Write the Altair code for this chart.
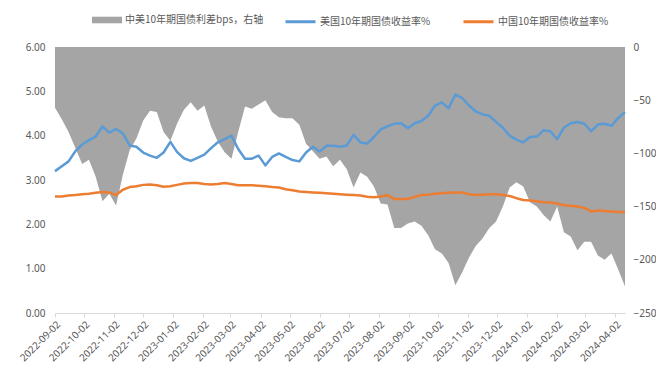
import altair as alt
import pandas as pd

# weekly sampling dates (x categories)
start_date = "2022-09-02"
dates = pd.date_range(start_date, periods=85, freq="7D")

us_yield = [3.20, 3.31, 3.42, 3.65, 3.80, 3.90, 3.98, 4.21, 4.07, 4.15,
            4.05, 3.78, 3.75, 3.62, 3.55, 3.50, 3.62, 3.86, 3.63, 3.49,
            3.43, 3.50, 3.57, 3.72, 3.85, 3.92, 4.00, 3.70, 3.48, 3.48,
            3.55, 3.33, 3.52, 3.60, 3.52, 3.45, 3.42, 3.62, 3.75, 3.64,
            3.77, 3.77, 3.75, 3.78, 4.02, 3.85, 3.82, 3.97, 4.14, 4.21,
            4.27, 4.28, 4.17, 4.28, 4.33, 4.45, 4.68, 4.75, 4.62, 4.93,
            4.85, 4.68, 4.55, 4.48, 4.45, 4.31, 4.18, 4.00, 3.91, 3.85,
            3.97, 3.98, 4.12, 4.10, 3.92, 4.18, 4.28, 4.31, 4.27, 4.10,
            4.25, 4.27, 4.22, 4.40, 4.53]

cn_yield = [2.63, 2.63, 2.65, 2.66, 2.68, 2.69, 2.71, 2.73, 2.72, 2.66,
            2.78, 2.84, 2.86, 2.89, 2.90, 2.88, 2.85, 2.86, 2.89, 2.92,
            2.93, 2.93, 2.91, 2.90, 2.91, 2.93, 2.91, 2.88, 2.88, 2.88,
            2.87, 2.86, 2.84, 2.83, 2.79, 2.77, 2.74, 2.73, 2.72, 2.71,
            2.70, 2.69, 2.68, 2.67, 2.66, 2.65, 2.62, 2.61, 2.63, 2.66,
            2.57, 2.57, 2.57, 2.62, 2.66, 2.67, 2.69, 2.70, 2.71, 2.72,
            2.72, 2.68, 2.66, 2.67, 2.68, 2.68, 2.66, 2.64, 2.59, 2.55,
            2.54, 2.52, 2.50, 2.49, 2.47, 2.43, 2.42, 2.40, 2.37, 2.29,
            2.31, 2.30, 2.29, 2.28, 2.28]

spread_bps = [-57, -68, -80, -95, -110, -106, -122, -145, -138, -149,
              -120, -97, -86, -69, -60, -61, -80, -88, -72, -59,
              -52, -60, -55, -75, -89, -99, -105, -80, -56, -58,
              -54, -50, -61, -66, -67, -67, -73, -91, -98, -105,
              -103, -112, -106, -115, -132, -118, -122, -131, -147, -148,
              -170, -170, -166, -164, -168, -177, -190, -194, -203, -224,
              -212, -198, -187, -180, -170, -164, -150, -132, -127, -131,
              -146, -150, -158, -164, -150, -174, -178, -191, -183, -183,
              -196, -200, -194, -209, -225]

spread_name = "中美10年期国债利差bps，右轴"
us_name = "美国10年期国债收益率%"
cn_name = "中国10年期国债收益率%"

left_ticks = [0, 1, 2, 3, 4, 5, 6]
right_ticks = [0, -50, -100, -150, -200, -250]
tick_months = [(2022, m) for m in range(9, 13)] + [(2023, m) for m in range(1, 13)] + [(2024, m) for m in range(1, 5)]
tick_values = [alt.DateTime(year=y, month=m, date=2) for y, m in tick_months]

BLUE = "#5B9BD5"
ORANGE = "#ED7D31"
GRAY = "#A5A5A5"
TXT = "#595959"

df_spread = pd.DataFrame({"date": dates, "spread": spread_bps, "series": spread_name})
df_lines = pd.DataFrame({
    "date": list(dates) * 2,
    "value": us_yield + cn_yield,
    "series": [us_name] * len(us_yield) + [cn_name] * len(cn_yield),
})

x_enc = alt.X(
    "date:T",
    scale=alt.Scale(domain=[alt.DateTime(year=2022, month=9, date=2),
                            alt.DateTime(year=2024, month=4, date=12)]),
    axis=alt.Axis(values=tick_values, format="%Y-%m-%d", labelAngle=-45,
                  labelAlign="right", labelBaseline="top", title=None, grid=False,
                  labelOverlap=False, labelBound=False,
                  domainColor="#D9D9D9", tickColor="#D9D9D9", tickSize=4,
                  labelColor=TXT, labelFontSize=10, labelPadding=2),
)

area = alt.Chart(df_spread).mark_area(interpolate="linear").encode(
    x=x_enc,
    y=alt.Y("spread:Q", scale=alt.Scale(domain=[-250, 0], nice=False),
            axis=alt.Axis(orient="right", values=right_ticks, title=None, grid=False,
                          domain=False, ticks=False, labelPadding=8,
                          labelColor=TXT, labelFontSize=10)),
    y2=alt.datum(0),
    fill=alt.Fill("series:N", scale=alt.Scale(domain=[spread_name], range=[GRAY]),
                  legend=alt.Legend(orient="none", legendX=37, legendY=-42, title=None,
                                    symbolType="M-1,-0.22H1V0.22H-1Z", symbolSize=900,
                                    symbolStrokeWidth=0, labelOffset=3)),
)

lines = alt.Chart(df_lines).mark_line(strokeWidth=2.5, strokeJoin="round").encode(
    x=x_enc,
    y=alt.Y("value:Q", scale=alt.Scale(domain=[0, 6], nice=False),
            axis=alt.Axis(orient="left", values=left_ticks, format=".2f", title=None,
                          grid=False, domain=False, ticks=False, labelPadding=10,
                          labelColor=TXT, labelFontSize=10)),
    stroke=alt.Stroke("series:N", scale=alt.Scale(domain=[us_name, cn_name], range=[BLUE, ORANGE]),
                      legend=alt.Legend(orient="none", legendX=229, legendY=-42, title=None,
                                        direction="horizontal", symbolType="stroke",
                                        symbolSize=900, symbolStrokeWidth=3,
                                        columnPadding=26, labelOffset=3)),
)

chart = alt.layer(area, lines).resolve_scale(y="independent").properties(
    width=570, height=266,
    autosize=alt.AutoSizeParams(type="none"),
    padding={"left": 47, "top": 39, "right": 31, "bottom": 51},
).configure_view(stroke=None).configure_axis(
    labelFont="Noto Sans",
).configure_legend(
    labelFont="Noto Sans CJK SC", labelFontSize=10, labelColor=TXT, padding=0,
)

chart.save("out.html", embed_options={"renderer": "svg", "actions": False})
